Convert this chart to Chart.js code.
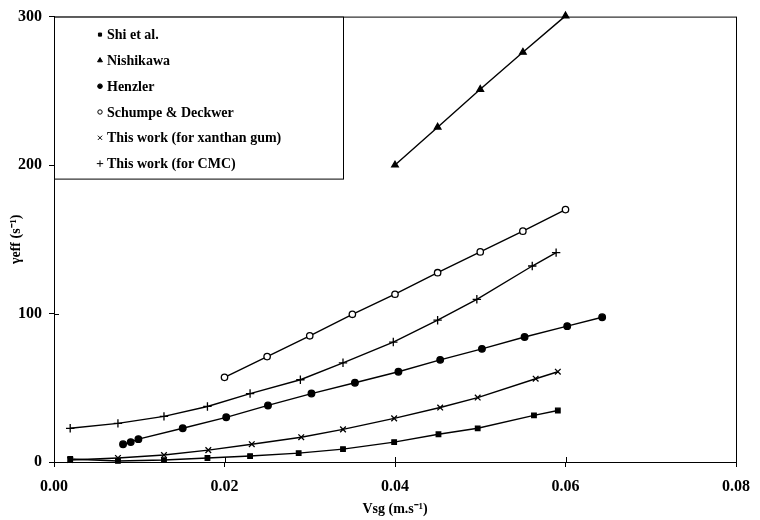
<!DOCTYPE html>
<html>
<head>
<meta charset="utf-8">
<script src="https://cdn.jsdelivr.net/npm/chart.js@4.4.1/dist/chart.umd.min.js"></script>
<style>
  html, body { margin: 0; padding: 0; background: #fff; }
  #wrap { position: relative; width: 760px; height: 520px; }
</style>
</head>
<body>
<div id="wrap"><canvas id="chart" width="760" height="520"></canvas></div>
<script>
// Series values (x = Vsg in m/s, y = gamma eff in 1/s)
var shiX = [0.0019, 0.0075, 0.0129, 0.0180, 0.0230, 0.0287, 0.0339, 0.0399, 0.0451, 0.0497, 0.0563, 0.0591];
var shiY = [2, 0.7, 1.3, 2.7, 4, 6, 8.7, 13.4, 18.7, 22.7, 31.4, 34.7];

var nishiX = [0.040, 0.045, 0.050, 0.055, 0.060];
var nishiY = [200, 225.5, 251, 276, 300.5];

var henzlerX = [0.0081, 0.0090, 0.0099, 0.0151, 0.0202, 0.0251, 0.0302, 0.0353, 0.0404, 0.0453, 0.0502, 0.0552, 0.0602, 0.0643];
var henzlerY = [12, 13.4, 15.4, 22.7, 30.1, 38.1, 46.1, 53.4, 60.8, 68.8, 76.2, 84.2, 91.5, 97.5];

var schumpeX = [0.020, 0.025, 0.030, 0.035, 0.040, 0.045, 0.050, 0.055, 0.060];
var schumpeY = [57, 71, 85, 99.5, 113, 127.5, 141.5, 155.5, 170];

var xanthanX = [0.0019, 0.0075, 0.0129, 0.0181, 0.0232, 0.0290, 0.0339, 0.0399, 0.0453, 0.0497, 0.0565, 0.0591];
var xanthanY = [1.3, 2.7, 4.7, 8, 12, 16.7, 22, 29.4, 36.7, 43.4, 56.1, 60.8];

var cmcX = [0.0019, 0.0075, 0.0129, 0.0180, 0.0230, 0.0289, 0.0339, 0.0398, 0.0450, 0.0496, 0.0561, 0.0589];
var cmcY = [22.7, 26, 30.7, 37.4, 46.1, 55.4, 66.8, 80.8, 95.5, 109.6, 132, 141];

var xTicks = [0, 0.02, 0.04, 0.06, 0.08];
var yTicks = [0, 100, 200, 300];

var FONT = "'Liberation Serif', 'Times New Roman', serif";

function pts(xs, ys) {
    return xs.map(function (x, i) { return { x: x, y: ys[i] }; });
}

function series(label, xs, ys, style, radius, fill) {
    return {
        label: label,
        data: pts(xs, ys),
        borderColor: '#000',
        borderWidth: 1.4,
        pointStyle: style,
        pointRadius: radius,
        pointBorderWidth: 1.3,
        pointBorderColor: '#000',
        pointBackgroundColor: fill,
        fill: false,
        clip: false,
        tension: 0
    };
}

var datasets = [
    series('Shi et al.', shiX, shiY, 'rect', 3.2, '#000'),
    series('Nishikawa', nishiX, nishiY, 'triangle', 3.8, '#000'),
    series('Henzler', henzlerX, henzlerY, 'circle', 3.3, '#000'),
    series('Schumpe & Deckwer', schumpeX, schumpeY, 'circle', 3.2, '#fff'),
    series('This work (for xanthan gum)', xanthanX, xanthanY, 'crossRot', 4, '#000'),
    series('This work (for CMC)', cmcX, cmcY, 'cross', 4.2, '#000')
];

// Frame, inner tick marks and the boxed legend in the top-left corner.
var framePlugin = {
    id: 'frame',
    afterDatasetsDraw: function (chart) {
        var ctx = chart.ctx;
        var a = chart.chartArea;
        var xs = chart.scales.x, ys = chart.scales.y;
        ctx.save();
        ctx.strokeStyle = '#000';
        ctx.lineWidth = 1;
        ctx.strokeRect(a.left + 0.5, a.top + 0.5, a.right - a.left, a.bottom - a.top);
        ctx.beginPath();
        xTicks.forEach(function (v) {
            var px = Math.round(xs.getPixelForValue(v)) + 0.5;
            ctx.moveTo(px, a.bottom);
            ctx.lineTo(px, a.bottom - 5);
        });
        yTicks.forEach(function (v) {
            var py = Math.round(ys.getPixelForValue(v)) + 0.5;
            ctx.moveTo(a.left, py);
            ctx.lineTo(a.left + 5, py);
        });
        ctx.stroke();

        // legend box
        var bx = a.left + 0.5, by = a.top + 0.5, bw = 289, bh = 162;
        ctx.fillStyle = '#fff';
        ctx.fillRect(bx, by, bw, bh);
        ctx.strokeRect(bx, by, bw, bh);
        ctx.font = 'bold 14px ' + FONT;
        ctx.textBaseline = 'middle';
        ctx.textAlign = 'left';
        chart.data.datasets.forEach(function (ds, i) {
            var cy = by + 17.5 + i * 25.8;
            var mx = 100;
            ctx.fillStyle = ds.pointBackgroundColor;
            ctx.strokeStyle = '#000';
            ctx.lineWidth = 1;
            Chart.helpers.drawPoint(ctx, {
                pointStyle: ds.pointStyle,
                radius: ds.pointRadius - 1,
                rotation: 0,
                borderWidth: 1
            }, mx, cy);
            ctx.fillStyle = '#000';
            ctx.fillText(ds.label, 107, cy + 1);
        });
        ctx.restore();
    }
};

new Chart(document.getElementById('chart'), {
    type: 'line',
    data: { datasets: datasets },
    options: {
        responsive: false,
        animation: false,
        events: [],
        layout: { padding: { top: 15, right: 22, bottom: 0, left: 0 } },
        plugins: {
            legend: { display: false },
            tooltip: { enabled: false }
        },
        scales: {
            x: {
                type: 'linear',
                min: 0,
                max: 0.08,
                afterFit: function (s) { s.height = 58; },
                afterBuildTicks: function (s) {
                    s.ticks = xTicks.map(function (v) { return { value: v }; });
                },
                ticks: {
                    color: '#000',
                    font: { family: FONT, size: 16, weight: 'bold' },
                    padding: 10,
                    maxRotation: 0,
                    callback: function (v) { return Number(v).toFixed(2); }
                },
                grid: { drawOnChartArea: false, color: '#000', tickLength: 5 },
                border: { color: '#000', width: 1 },
                title: {
                    display: true,
                    text: 'Vsg (m.s\u207B\u00B9)',
                    color: '#000',
                    font: { family: FONT, size: 14, weight: 'bold' },
                    padding: { top: 0, bottom: 2 }
                }
            },
            y: {
                type: 'linear',
                min: 0,
                max: 300,
                afterFit: function (s) { s.width = 54; },
                afterBuildTicks: function (s) {
                    s.ticks = yTicks.map(function (v) { return { value: v }; });
                },
                ticks: {
                    color: '#000',
                    font: { family: FONT, size: 16, weight: 'bold' },
                    padding: 7
                },
                grid: { drawOnChartArea: false, color: '#000', tickLength: 5 },
                border: { color: '#000', width: 1 },
                title: {
                    display: true,
                    text: '\u03B3eff (s\u207B\u00B9)',
                    color: '#000',
                    font: { family: FONT, size: 14, weight: 'bold' },
                    padding: { top: 8, bottom: 0 }
                }
            }
        }
    },
    plugins: [framePlugin]
});
</script>
</body>
</html>
